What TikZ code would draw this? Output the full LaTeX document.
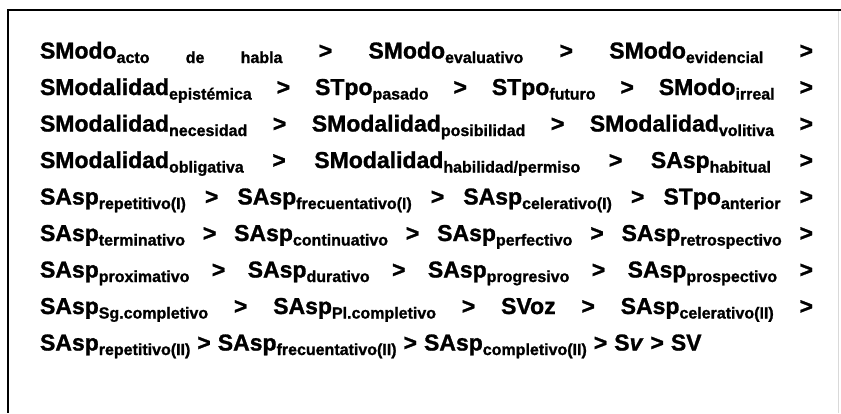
\documentclass[tikz,border=0pt]{standalone}
\usepackage{fontspec}
\setmainfont{Liberation Sans}[BoldFeatures={FakeBold=1.2},BoldItalicFeatures={FakeBold=1.2}]
\newcommand{\lo}[1]{\raisebox{-4.5pt}{\fontsize{16}{16}\selectfont\bfseries #1}}
\newcommand{\G}{\hfill>\hfill}
\newcommand{\rowbox}[1]{\hbox to 773pt{\fontsize{23}{23}\selectfont\bfseries #1}}
\begin{document}
\begin{tikzpicture}[x=1pt,y=-1pt,
  rowtext/.style={anchor=base west,inner sep=0pt,outer sep=0pt,font=\fontsize{23}{23}\selectfont\bfseries},
  frameline/.style={line width=2pt,draw=black}]
\useasboundingbox (0,0) rectangle (841,413);
\fill[white] (0,0) rectangle (841,413);
\coordinate (tl) at (8,10);
\coordinate (tr) at (841,10);
\coordinate (bl) at (8,413);
\coordinate (rt) at (838,11);
\coordinate (rb) at (838,413);
\draw[frameline] (tr) -- (tl) -- (bl);
\draw[black!15,line width=0.6pt] (rt) -- (rb);
\node[rowtext] (r1) at (40,58.5) {\rowbox{SModo\lo{acto}\hfill\lo{de}\hfill\lo{habla}\G SModo\lo{evaluativo}\G SModo\lo{evidencial}\hfill>}};
\node[rowtext] (r2) at (40,95) {\rowbox{SModalidad\lo{epistémica}\G STpo\lo{pasado}\G STpo\lo{futuro}\G SModo\lo{irreal}\hfill>}};
\node[rowtext] (r3) at (40,131.5) {\rowbox{SModalidad\lo{necesidad}\G SModalidad\lo{posibilidad}\G SModalidad\lo{volitiva}\hfill>}};
\node[rowtext] (r4) at (40,168) {\rowbox{SModalidad\lo{obligativa}\G SModalidad\lo{habilidad/permiso}\G SAsp\lo{habitual}\hfill>}};
\node[rowtext] (r5) at (40,204.5) {\rowbox{SAsp\lo{repetitivo(I)}\G SAsp\lo{frecuentativo(I)}\G SAsp\lo{celerativo(I)}\G STpo\lo{anterior}\hfill>}};
\node[rowtext] (r6) at (40,241) {\rowbox{SAsp\lo{terminativo}\G SAsp\lo{continuativo}\G SAsp\lo{perfectivo}\G SAsp\lo{retrospectivo}\hfill>}};
\node[rowtext] (r7) at (40,277.5) {\rowbox{SAsp\lo{proximativo}\G SAsp\lo{durativo}\G SAsp\lo{progresivo}\G SAsp\lo{prospectivo}\hfill>}};
\node[rowtext] (r8) at (40,314) {\rowbox{SAsp\lo{Sg.completivo}\G SAsp\lo{Pl.completivo}\G SVoz\G SAsp\lo{celerativo(II)}\hfill>}};
\node[rowtext] (r9) at (40,350.5) {SAsp\lo{repetitivo(II)}\hspace{7pt}>\hspace{7pt}SAsp\lo{frecuentativo(II)}\hspace{7pt}>\hspace{7pt}SAsp\lo{completivo(II)}\hspace{7pt}>\hspace{7pt}S\textit{v}\hspace{7pt}>\hspace{7pt}SV};
\end{tikzpicture}
\end{document}
